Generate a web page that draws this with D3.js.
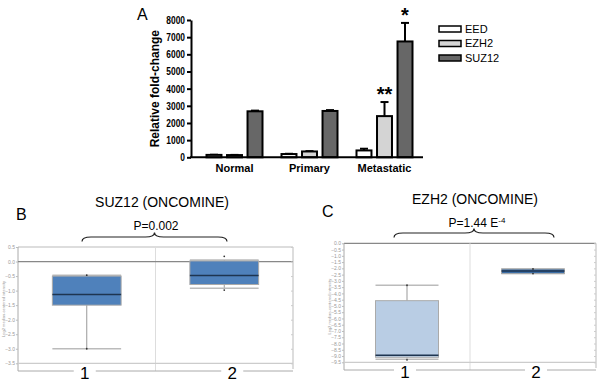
<!DOCTYPE html>
<html lang="en">
<head>
<meta charset="UTF-8">
<title>PRC2 expression</title>
<script src="https://cdn.jsdelivr.net/npm/d3@7/dist/d3.min.js"></script>
<style>
    body { margin: 0; background: white; }
    svg { display: block; font-family: "Liberation Sans", Arial, sans-serif; }
</style>
</head>
<body>
<script>
    // ---- panel A data ----
    var groups = ["Normal", "Primary", "Metastatic"];
    var series = ["EED", "EZH2", "SUZ12"];
    var seriesColors = ["#ffffff", "#d4d4d4", "#676767"];
    var eedValues = [140, 190, 400];
    var ezh2Values = [130, 340, 2400];
    var suz12Values = [2680, 2700, 6750];
    var eedErrors = [10, 15, 100];
    var ezh2Errors = [10, 20, 820];
    var suz12Errors = [40, 50, 1080];
    var stars = [["", "", ""], ["", "", "**"], ["", "", "*"]];
    var yTicksA = [0, 1000, 2000, 3000, 4000, 5000, 6000, 7000, 8000];

    // ---- panel B data (SUZ12 oncomine) ----
    var boxLabels = ["1", "2"];
    var suzMin = [-3.0, -0.92];
    var suzQ1 = [-1.5, -0.79];
    var suzMedian = [-1.13, -0.48];
    var suzQ3 = [-0.5, 0.02];
    var suzMax = [-0.47, 0.05];
    var suzDots = [[-0.47, -3.0], [0.18, -0.98]];
    var yTicksB = [0.5, 0.0, -0.5, -1.0, -1.5, -2.0, -2.5, -3.0, -3.5];

    // ---- panel C data (EZH2 oncomine) ----
    var ezhMin = [-9.26, -2.42];
    var ezhQ1 = [-9.1, -2.42];
    var ezhMedian = [-8.94, -2.22];
    var ezhQ3 = [-4.58, -2.05];
    var ezhMax = [-3.35, -2.05];
    var ezhDots = [[-3.35, -9.3], [-2.05, -2.42]];
    var yTicksC = [0.0, -0.5, -1.0, -1.5, -2.0, -2.5, -3.0, -3.5, -4.0, -4.5, -5.0,
        -5.5, -6.0, -6.5, -7.0, -7.5, -8.0, -8.5, -9.0, -9.5];

    var svg = d3.select("body").append("svg")
        .attr("width", 600)
        .attr("height", 383);

    // =================== Panel A ===================
    var a = svg.append("g");
    var yA = d3.scaleLinear().domain([0, 8000]).range([157.3, 20]);
    var xA = d3.scaleBand().domain(groups).range([197, 422]);
    var xS = d3.scaleBand().domain(series).range([9.5, 65.5]).paddingInner(0.27);

    var values = [eedValues, ezh2Values, suz12Values];
    var errors = [eedErrors, ezh2Errors, suz12Errors];

    series.forEach(function (s, si) {
        groups.forEach(function (g, gi) {
            var x = xA(g) + xS(s);
            var v = values[si][gi];
            var top = v + errors[si][gi];
            var cx = x + xS.bandwidth() / 2;
            // error bar
            a.append("line")
                .attr("x1", cx).attr("x2", cx)
                .attr("y1", yA(v)).attr("y2", yA(top))
                .attr("stroke", "black").attr("stroke-width", 2);
            a.append("line")
                .attr("x1", cx - 4).attr("x2", cx + 4)
                .attr("y1", yA(top)).attr("y2", yA(top))
                .attr("stroke", "black").attr("stroke-width", 2);
            a.append("rect")
                .attr("x", x)
                .attr("y", yA(v))
                .attr("width", xS.bandwidth())
                .attr("height", yA(0) - yA(v))
                .attr("fill", seriesColors[si])
                .attr("stroke", "black")
                .attr("stroke-width", 2);
            if (stars[si][gi]) {
                a.append("text")
                    .attr("x", cx)
                    .attr("y", yA(top) - 1)
                    .attr("text-anchor", "middle")
                    .attr("font-size", "20px")
                    .attr("font-weight", "bold")
                    .text(stars[si][gi]);
            }
        });
    });

    var yAxisA = a.append("g")
        .attr("transform", "translate(191,0)")
        .call(d3.axisLeft(yA).tickValues(yTicksA).tickSize(4).tickPadding(2)
            .tickSizeOuter(0).tickFormat(d3.format("d")));
    yAxisA.select(".domain").attr("stroke-width", 2);
    yAxisA.selectAll(".tick line").attr("stroke-width", 2);
    // the original labels are narrow: squeeze them horizontally
    yAxisA.selectAll("text")
        .attr("font-size", "10.5px").attr("font-weight", "bold")
        .attr("font-family", "Liberation Sans, Arial, sans-serif")
        .attr("x", -6 / 0.8)
        .attr("transform", "scale(0.8,1)");

    a.append("line")
        .attr("x1", 190).attr("x2", 423)
        .attr("y1", yA(0)).attr("y2", yA(0))
        .attr("stroke", "black").attr("stroke-width", 2);

    groups.forEach(function (g) {
        a.append("text")
            .attr("x", xA(g) + xA.bandwidth() / 2)
            .attr("y", 172)
            .attr("text-anchor", "middle")
            .attr("font-size", "11px")
            .attr("font-weight", "bold")
            .text(g);
    });

    a.append("text")
        .attr("transform", "translate(159," + ((yA(0) + yA(8000)) / 2) + ") rotate(-90)")
        .attr("text-anchor", "middle")
        .attr("font-size", "12px")
        .attr("font-weight", "bold")
        .text("Relative fold-change");

    a.append("text")
        .attr("x", 137).attr("y", 20)
        .attr("font-size", "16px")
        .text("A");

    // legend
    series.forEach(function (s, i) {
        a.append("rect")
            .attr("x", 439).attr("y", 26 + i * 14.5)
            .attr("width", 22).attr("height", 6)
            .attr("fill", seriesColors[i])
            .attr("stroke", "black").attr("stroke-width", 1.5);
        a.append("text")
            .attr("x", 465).attr("y", 29 + i * 14.5)
            .attr("dy", "0.35em")
            .attr("font-size", "11px")
            .text(s);
    });

    // =================== box panels ===================
    function brace(g, x1, x2, y, h) {
        var m = (x1 + x2) / 2;
        var d = "M" + x1 + "," + (y + h) +
            " Q" + x1 + "," + y + " " + (x1 + 2 * h) + "," + y +
            " L" + (m - 2 * h) + "," + y +
            " Q" + m + "," + y + " " + m + "," + (y - h) +
            " Q" + m + "," + y + " " + (m + 2 * h) + "," + y +
            " L" + (x2 - 2 * h) + "," + y +
            " Q" + x2 + "," + y + " " + x2 + "," + (y + h);
        g.append("path").attr("d", d)
            .attr("fill", "none").attr("stroke", "#222").attr("stroke-width", 1.2);
    }

    function boxPanel(opt) {
        var g = svg.append("g");
        var y = d3.scaleLinear().domain(opt.domain).range(opt.range);
        var x = d3.scaleBand().domain(boxLabels).range([opt.left, opt.right]);
        var top = y(opt.domain[0]);
        var bottom = opt.bottom;

        // frame
        g.append("line").attr("x1", opt.left).attr("x2", opt.right)
            .attr("y1", top).attr("y2", top)
            .attr("stroke", opt.topColor).attr("stroke-width", 1.2);
        g.append("line").attr("x1", opt.left).attr("x2", opt.left)
            .attr("y1", top).attr("y2", bottom)
            .attr("stroke", "#aaa").attr("stroke-width", 1);
        g.append("line").attr("x1", opt.right).attr("x2", opt.right)
            .attr("y1", top).attr("y2", bottom - 2)
            .attr("stroke", "#bbb").attr("stroke-width", 1);
        g.append("line").attr("x1", x("2")).attr("x2", x("2"))
            .attr("y1", top).attr("y2", bottom)
            .attr("stroke", "#ddd").attr("stroke-width", 1);
        g.append("line").attr("x1", opt.left).attr("x2", opt.right)
            .attr("y1", y(opt.domain[1])).attr("y2", y(opt.domain[1]))
            .attr("stroke", "#ccc").attr("stroke-width", 1.2);
        if (opt.refLine !== undefined) {
            g.append("line").attr("x1", opt.left).attr("x2", opt.right)
                .attr("y1", y(opt.refLine)).attr("y2", y(opt.refLine))
                .attr("stroke", "#888").attr("stroke-width", 1.2);
        }
        g.append("line").attr("x1", opt.left).attr("x2", opt.right)
            .attr("y1", bottom).attr("y2", bottom)
            .attr("stroke", "#aaa").attr("stroke-width", 1);

        // y axis
        var ax = g.append("g")
            .attr("transform", "translate(" + opt.left + ",0)")
            .call(d3.axisLeft(y).tickValues(opt.ticks).tickSize(2).tickPadding(1)
                .tickFormat(d3.format(".1f")));
        ax.select(".domain").remove();
        ax.selectAll("line").attr("stroke", "#bbb");
        ax.selectAll("text").attr("font-size", "5px").attr("fill", "#999")
            .attr("font-family", "Liberation Sans, Arial, sans-serif");
        var ax2 = g.append("g")
            .attr("transform", "translate(" + opt.right + ",0)")
            .call(d3.axisRight(y).tickValues(opt.ticks).tickSize(-2).tickFormat(""));
        ax2.select(".domain").remove();
        ax2.selectAll("line").attr("stroke", "#ccc");

        g.append("text")
            .attr("transform", "translate(" + opt.titleX + "," + ((top + bottom) / 2) + ") rotate(-90)")
            .attr("text-anchor", "middle")
            .attr("font-size", "4px")
            .attr("fill", "#999")
            .text("Log2 median-centered intensity");

        // boxes
        var bw = x.bandwidth() * 0.5;
        boxLabels.forEach(function (k, i) {
            var cx = x(k) + x.bandwidth() / 2;
            g.append("line").attr("x1", cx).attr("x2", cx)
                .attr("y1", y(opt.max[i])).attr("y2", y(opt.min[i]))
                .attr("stroke", "#999").attr("stroke-width", 1);
            [opt.min[i], opt.max[i]].forEach(function (v) {
                g.append("line").attr("x1", cx - bw / 2).attr("x2", cx + bw / 2)
                    .attr("y1", y(v)).attr("y2", y(v))
                    .attr("stroke", "#bbb").attr("stroke-width", 1.5);
            });
            g.append("rect")
                .attr("x", cx - bw / 2)
                .attr("y", y(opt.q3[i]))
                .attr("width", bw)
                .attr("height", Math.max(1, y(opt.q1[i]) - y(opt.q3[i])))
                .attr("fill", opt.fills[i])
                .attr("stroke", "#aaa")
                .attr("stroke-width", 1);
            g.append("line").attr("x1", cx - bw / 2).attr("x2", cx + bw / 2)
                .attr("y1", y(opt.median[i])).attr("y2", y(opt.median[i]))
                .attr("stroke", "#1e3550").attr("stroke-width", 1.5);
            opt.dots[i].forEach(function (v) {
                g.append("circle").attr("cx", cx).attr("cy", y(v)).attr("r", 0.9)
                    .attr("fill", "#333");
            });
            // category label on the bottom line
            g.append("rect").attr("x", cx + opt.labelDx[i] - 11).attr("y", bottom - 2)
                .attr("width", 22).attr("height", 4).attr("fill", "white");
            g.append("text")
                .attr("x", cx + opt.labelDx[i])
                .attr("y", bottom + 8)
                .attr("text-anchor", "middle")
                .attr("font-size", "17px")
                .text(k);
        });

        // titles
        g.append("text")
            .attr("x", opt.titleCx).attr("y", opt.titleY)
            .attr("text-anchor", "middle")
            .attr("font-size", "14px")
            .text(opt.title);
        g.append("text")
            .attr("x", opt.letterX).attr("y", opt.letterY)
            .attr("font-size", "16px")
            .text(opt.letter);
        var p = g.append("text")
            .attr("x", opt.pCx).attr("y", opt.pY)
            .attr("text-anchor", "middle")
            .attr("font-size", "12px")
            .text(opt.p[0]);
        if (opt.p[1]) {
            p.append("tspan").attr("dy", "-0.45em").attr("font-size", "8px").text(opt.p[1]);
        }
        brace(g, opt.brace[0], opt.brace[1], opt.brace[2], 4.5);
        return g;
    }

    boxPanel({
        domain: [0.5, -3.5], range: [247, 363.3],
        left: 18, right: 293, bottom: 371,
        ticks: yTicksB, refLine: 0.0, topColor: "#bbb",
        min: suzMin, q1: suzQ1, median: suzMedian, q3: suzQ3, max: suzMax, dots: suzDots,
        fills: ["#4f81bb", "#4f81bb"],
        labelDx: [-2, 8],
        titleX: 5,
        title: "SUZ12 (ONCOMINE)", titleCx: 162, titleY: 207,
        letter: "B", letterX: 16, letterY: 220,
        p: ["P=0.002"], pCx: 156, pY: 230,
        brace: [82, 227, 237]
    });

    boxPanel({
        domain: [0.0, -9.5], range: [243.3, 362.3],
        left: 344, right: 596, bottom: 370,
        ticks: yTicksC, topColor: "#888",
        min: ezhMin, q1: ezhQ1, median: ezhMedian, q3: ezhQ3, max: ezhMax, dots: ezhDots,
        fills: ["#b9cde4", "#3c6ea6"],
        labelDx: [-2, 3],
        titleX: 331,
        title: "EZH2 (ONCOMINE)", titleCx: 475, titleY: 204,
        letter: "C", letterX: 322, letterY: 217,
        p: ["P=1.44 E", "-4"], pCx: 477, pY: 227,
        brace: [394, 554, 233]
    });
</script>
</body>
</html>
